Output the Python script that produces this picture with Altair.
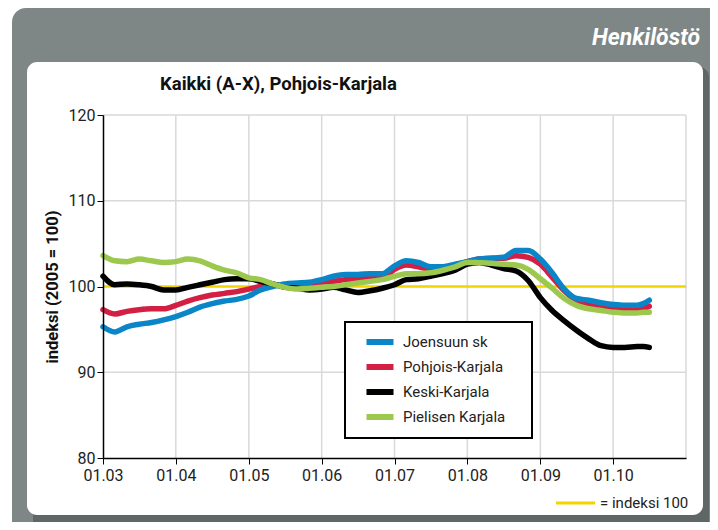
import altair as alt
import pandas as pd

# ---- data ----
dates = [
    "2003-01", "2003-03", "2003-05", "2003-07", "2003-09", "2003-11",
    "2004-01", "2004-03", "2004-05", "2004-07", "2004-09", "2004-11",
    "2005-01", "2005-03", "2005-05", "2005-07", "2005-09", "2005-11",
    "2006-01", "2006-03", "2006-05", "2006-07", "2006-09", "2006-11",
    "2007-01", "2007-03", "2007-05", "2007-07", "2007-09", "2007-11",
    "2008-01", "2008-03", "2008-05", "2008-07", "2008-09", "2008-11",
    "2009-01", "2009-03", "2009-05", "2009-07", "2009-09", "2009-11",
    "2010-01", "2010-03", "2010-05", "2010-06", "2010-07",
]
joensuu = [95.3, 94.7, 95.3, 95.6, 95.8, 96.1, 96.5, 97.0, 97.6, 98.0, 98.3, 98.5,
           98.9, 99.6, 100.0, 100.3, 100.4, 100.5, 100.8, 101.2, 101.4, 101.4, 101.5, 101.5,
           102.4, 103.0, 102.8, 102.3, 102.3, 102.6, 102.9, 103.2, 103.3, 103.4, 104.2, 104.2,
           103.2, 101.6, 99.7, 98.6, 98.4, 98.1, 97.9, 97.8, 97.8, 98.0, 98.4]
pohjois = [97.3, 96.8, 97.1, 97.3, 97.4, 97.4, 97.8, 98.3, 98.7, 99.0, 99.2, 99.4,
           99.7, 100.0, 100.1, 100.2, 100.2, 100.3, 100.5, 100.6, 100.8, 100.9, 101.0, 101.0,
           102.0, 102.5, 102.3, 102.0, 102.2, 102.5, 102.9, 103.2, 103.3, 103.3, 103.6, 103.4,
           102.6, 101.1, 99.5, 98.4, 98.0, 97.7, 97.5, 97.3, 97.3, 97.4, 97.7]
keski = [101.2, 100.2, 100.3, 100.2, 100.0, 99.6, 99.6, 99.9, 100.2, 100.5, 100.8, 100.9,
         100.9, 100.6, 100.3, 99.9, 99.8, 99.6, 99.7, 99.9, 99.6, 99.3, 99.5, 99.8,
         100.2, 100.8, 100.9, 101.2, 101.5, 101.9, 102.6, 102.8, 102.5, 102.1, 101.8, 100.7,
         98.7, 97.2, 96.0, 94.9, 93.9, 93.1, 92.9, 92.9, 93.0, 93.0, 92.9]
pielinen = [103.6, 103.0, 102.9, 103.2, 103.0, 102.8, 102.9, 103.2, 103.0, 102.4, 101.9, 101.6,
            101.0, 100.8, 100.3, 99.9, 99.7, 99.8, 99.9, 100.0, 100.2, 100.4, 100.6, 100.8,
            101.2, 101.5, 101.5, 101.6, 101.9, 102.3, 102.8, 102.8, 102.7, 102.6, 102.5, 102.0,
            100.9, 99.8, 98.6, 97.8, 97.4, 97.2, 97.0, 96.9, 96.9, 97.0, 97.0]

series_names = ["Joensuun sk", "Pohjois-Karjala", "Keski-Karjala", "Pielisen Karjala"]
series_colors = ["#0a86c8", "#d41f45", "#000000", "#9cc84e"]
draw_order = ["Pohjois-Karjala", "Joensuun sk", "Keski-Karjala", "Pielisen Karjala"]

tick_years = [2003, 2004, 2005, 2006, 2007, 2008, 2009, 2010]
grid_years = [2004, 2005, 2006, 2007, 2008, 2009, 2010, 2011]
y_grid = [90, 110, 120]
y_ticks = [80, 90, 100, 110, 120]

FONT = "Roboto"

rows = []
for name, vals in zip(series_names, [joensuu, pohjois, keski, pielinen]):
    for d, v in zip(dates, vals):
        rows.append({"date": d + "-01T00:00:00", "value": v, "series": name})
df = pd.DataFrame(rows)

xscale = alt.Scale(domain=[alt.DateTime(year=2003, month=1, date=1),
                           alt.DateTime(year=2011, month=1, date=1)])
yscale = alt.Scale(domain=[80, 120], nice=False, zero=False)
xaxis = alt.Axis(values=[alt.DateTime(year=y, month=1, date=1) for y in tick_years],
                 format="%m.%y", labelFontSize=16, labelPadding=3, zindex=2, grid=False,
                 labelAlign="center", labelFlush=False,
                 domainColor="#000000", domainWidth=1.5, tickColor="#000000", tickSize=6,
                 labelColor="#222222", labelFont=FONT)
yaxis = alt.Axis(values=y_ticks, labelFontSize=16, titleFontSize=16.5, titleFontWeight="bold",
                 titleColor="#111", titlePadding=8, labelPadding=2, zindex=2, grid=False,
                 domainColor="#000000", domainWidth=1.5, tickColor="#000000", tickSize=6,
                 labelColor="#222222", labelFont=FONT, titleFont=FONT)

x_enc = alt.X("date:T", scale=xscale, axis=xaxis, title=None)
y_enc = alt.Y("value:Q", scale=yscale, axis=yaxis, title="indeksi (2005 = 100)")

one = pd.DataFrame({"a": [0]})

# decorations (frame, panel, shadow)
outer = alt.Chart(one).mark_rect(color="#7e8686", cornerRadius=14).encode(
    x=alt.value(-91), x2=alt.value(640), y=alt.value(-107), y2=alt.value(440))
shadow = alt.Chart(one).mark_rect(color="#5f6666", cornerRadius=10).encode(
    x=alt.value(-70), x2=alt.value(606), y=alt.value(-48), y2=alt.value(440))
panel = alt.Chart(one).mark_rect(color="#ffffff", cornerRadius=10).encode(
    x=alt.value(-76), x2=alt.value(600), y=alt.value(-53), y2=alt.value(400))
header = alt.Chart(one).mark_text(text="Henkilöstö", font=FONT, fontSize=23, fontWeight="bold",
                                  fontStyle="italic", color="#ffffff", align="right",
                                  baseline="alphabetic").encode(
    x=alt.value(597), y=alt.value(-70))
title = alt.Chart(one).mark_text(text="Kaikki (A-X), Pohjois-Karjala", font=FONT, fontSize=18.5,
                                 fontWeight="bold", color="#111111", align="left",
                                 baseline="alphabetic").encode(
    x=alt.value(57), y=alt.value(-25))

vgrid = alt.Chart(pd.DataFrame({"date": [f"{y}-01-01T00:00:00" for y in grid_years]})).mark_rule(
    color="#d9d9d9", strokeWidth=1.5).encode(x=x_enc)
hgrid = alt.Chart(pd.DataFrame({"value": y_grid})).mark_rule(
    color="#d9d9d9", strokeWidth=1.5).encode(y=y_enc)
ref100 = alt.Chart(pd.DataFrame({"value": [100]})).mark_rule(
    color="#f2d500", strokeWidth=2.5).encode(y=y_enc)

legend_box = alt.Chart(one).mark_rect(fill="#ffffff", stroke="#000000", strokeWidth=2).encode(
    x=alt.value(242), x2=alt.value(429), y=alt.value(207), y2=alt.value(323))

color_enc = alt.Color("series:N", scale=alt.Scale(domain=series_names, range=series_colors),
                      legend=alt.Legend(title=None, orient="none", legendX=255, legendY=214,
                                        labelFontSize=15, labelFont=FONT, labelColor="#222",
                                        symbolType="M-1.35,0L1.35,0", symbolStrokeWidth=6,
                                        symbolSize=400, rowPadding=0, padding=0,
                                        symbolOffset=9, labelOffset=10))

line_layers = [
    alt.Chart(df).mark_line(strokeWidth=5.5, interpolate="monotone", strokeCap="round")
    .encode(x=x_enc, y=y_enc, color=color_enc)
    .transform_filter(alt.datum.series == s)
    for s in draw_order
]

key_rule = alt.Chart(one).mark_rule(color="#f2d500", strokeWidth=3).encode(
    x=alt.value(453), x2=alt.value(492), y=alt.value(388))
key_text = alt.Chart(one).mark_text(text="= indeksi 100", font=FONT, fontSize=15, color="#222",
                                    align="left", baseline="alphabetic").encode(
    x=alt.value(497), y=alt.value(393))

chart = alt.layer(
    outer, shadow, panel, header, title, vgrid, hgrid, ref100, legend_box,
    *line_layers, key_rule, key_text
).properties(
    width=583, height=343,
    autosize=alt.AutoSizeParams(type="none"),
    padding={"left": 95, "top": 107, "right": 24, "bottom": 64},
    background="#ffffff",
).configure_view(stroke=None)

chart.save("out.html", embed_options={"renderer": "svg", "actions": False})
